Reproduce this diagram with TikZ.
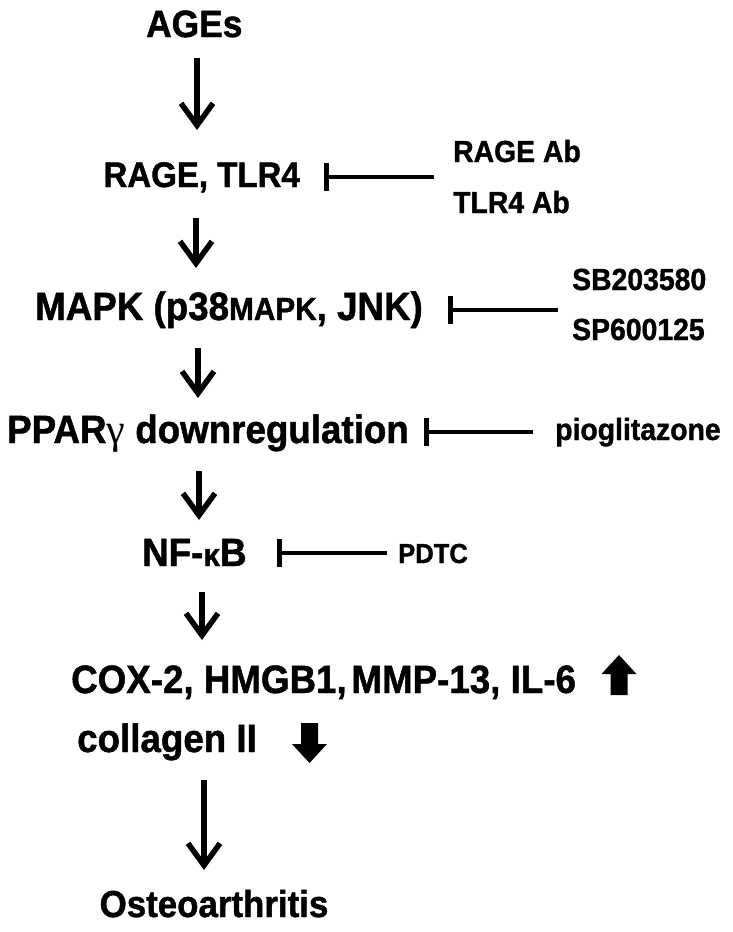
\documentclass[tikz,border=0pt]{standalone}
\usepackage{fontspec}
\setmainfont{Liberation Sans}[FakeStretch=0.93, BoldFeatures={FakeBold=1.2}]
\newfontfamily\serifgreek{Liberation Serif}
\usetikzlibrary{arrows.meta}
\newcommand\setfs[1]{\fontsize{#1}{#1}\selectfont}
\begin{document}
\begin{tikzpicture}[x=1pt,y=-1pt,
  lbl/.style={inner sep=0pt},
  arr/.style={line width=5.5pt, line join=miter, -{Straight Barb[length=22pt,width=32pt]}},
  inh/.style={line width=4.5pt, -{Bar[width=28pt]}},
  blockarrow/.style={fill=black}
]
\useasboundingbox (0,0) rectangle (732,932);

% main chain
\node[lbl, anchor=base west, font={\bfseries\setfs{38}}] (ages) at (146,37) {AGEs};
\node[lbl, anchor=base east, font={\bfseries\setfs{35.5}}] (rage) at (300,187) {RAGE, TLR4};
\node[lbl, anchor=base west, font={\bfseries\setfs{39.5}}] (mapk) at (35,320) {MAPK (p38{\setfs{32}MAPK}, JNK)};
\node[lbl, anchor=base west, font={\bfseries\setfs{39.5}}] (ppar) at (7,443) {PPAR{\serifgreek\mdseries\setfs{42}γ} downregulation};
\node[lbl, anchor=base west, font={\bfseries\setfs{39.5}}] (nfkb) at (142,566) {NF-{\setfs{32}κ}B};
\node[lbl, anchor=base west, font={\bfseries\setfs{39.5}}] (cox) at (71,693) {COX-2, HMGB1,\kern0.12em MMP-13, IL-6};
\node[lbl, anchor=base west, font={\bfseries\setfs{39.5}}] (coll) at (77,752) {collagen II};
\node[lbl, anchor=base, font={\bfseries\setfs{37.5}}] (oa) at (214,917) {Osteoarthritis};

% inhibitors
\node[lbl, anchor=base west, font={\bfseries\setfs{30.5}}] (rageab) at (453,162) {RAGE Ab};
\node[lbl, anchor=base west, font={\bfseries\setfs{30.5}}] (tlrab) at (453,213) {TLR4 Ab};
\node[lbl, anchor=base west, font={\bfseries\setfs{30.5}}] (sb) at (572,290) {SB203580};
\node[lbl, anchor=base west, font={\bfseries\setfs{30.5}}] (sp) at (572,340) {SP600125};
\node[lbl, anchor=base west, font={\bfseries\setfs{30.5}}] (pio) at (555,440) {pioglitazone};
\node[lbl, anchor=base west, font={\bfseries\setfs{27.5}}] (pdtc) at (398,563) {PDTC};

% arrow end points
\coordinate (a1s) at (197,58);  \coordinate (a1e) at (197,130);
\coordinate (a2s) at (196,218); \coordinate (a2e) at (196,268);
\coordinate (a3s) at (198,348); \coordinate (a3e) at (198,398);
\coordinate (a4s) at (199,471); \coordinate (a4e) at (199,520);
\coordinate (a5s) at (202,592); \coordinate (a5e) at (202,640);
\coordinate (a6s) at (204,780); \coordinate (a6e) at (204,870);
\draw[arr] (a1s) -- (a1e);
\draw[arr] (a2s) -- (a2e);
\draw[arr] (a3s) -- (a3e);
\draw[arr] (a4s) -- (a4e);
\draw[arr] (a5s) -- (a5e);
\draw[arr] (a6s) -- (a6e);

% inhibition lines
\coordinate (i1s) at (434,177); \coordinate (i1e) at (324,177);
\coordinate (i2s) at (558,310); \coordinate (i2e) at (448,310);
\coordinate (i3s) at (533,432); \coordinate (i3e) at (424,432);
\coordinate (i4s) at (387,553); \coordinate (i4e) at (277,553);
\draw[inh] (i1s) -- (i1e);
\draw[inh] (i2s) -- (i2e);
\draw[inh] (i3s) -- (i3e);
\draw[inh] (i4s) -- (i4e);

% block arrows
\coordinate (up) at (619,655);
\fill[blockarrow] (up) -- ++(17.5,19) -- ++(-9,0) -- ++(0,21) -- ++(-17,0) -- ++(0,-21) -- ++(-9,0) -- cycle;
\coordinate (dn) at (309.5,763);
\fill[blockarrow] (dn) -- ++(17.5,-19) -- ++(-9,0) -- ++(0,-21) -- ++(-17,0) -- ++(0,21) -- ++(-9,0) -- cycle;
\end{tikzpicture}
\end{document}
